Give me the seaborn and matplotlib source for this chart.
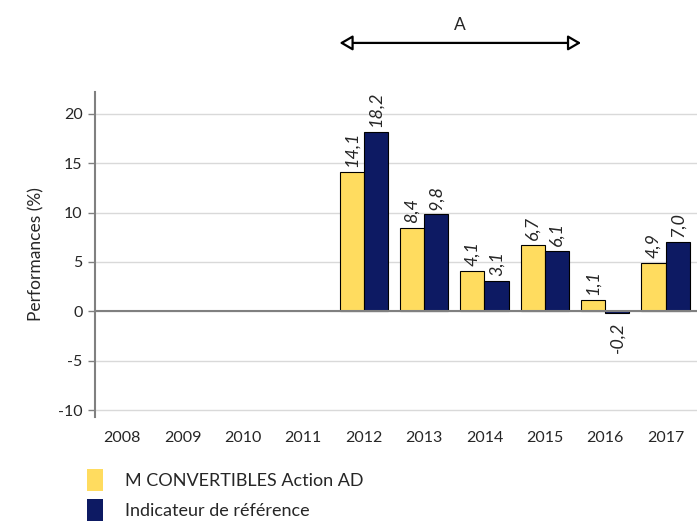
import numpy as np
import pandas as pd
import matplotlib
matplotlib.use("Agg")
import matplotlib.pyplot as plt
import seaborn as sns
from matplotlib.patches import Patch

years = ["2008", "2009", "2010", "2011", "2012", "2013", "2014", "2015", "2016", "2017"]
fund = [np.nan, np.nan, np.nan, np.nan, 14.1, 8.4, 4.1, 6.7, 1.1, 4.9]
bench = [np.nan, np.nan, np.nan, np.nan, 18.2, 9.8, 3.1, 6.1, -0.2, 7.0]
series_names = ["M CONVERTIBLES Action AD", "Indicateur de référence"]
colors = ["#FFDC5F", "#0D1A63"]
yticks = [-10, -5, 0, 5, 10, 15, 20]

sns.set_theme(style="white")
plt.rcParams["font.family"] = ["Lato", "DejaVu Sans"]

df = pd.DataFrame({
    "year": years * 2,
    "value": fund + bench,
    "series": [series_names[0]] * len(years) + [series_names[1]] * len(years),
})
df_plot = df.dropna()

fig = plt.figure(figsize=(7, 5.25), dpi=100)
ax = fig.add_axes([95 / 700, 1 - 417 / 525, 602 / 700, 325 / 525])

sns.barplot(data=df_plot, x="year", y="value", hue="series", order=years,
            hue_order=series_names, palette=colors, width=0.8, saturation=1,
            edgecolor="black", linewidth=0.8, ax=ax, legend=False, errorbar=None)

ax.set_ylim(-10.7, 22.2)
ax.set_xlim(-0.45, 9.52)
ax.set_yticks(yticks)
ax.set_yticklabels([str(t) for t in yticks], fontsize=11.5)
ax.tick_params(axis="y", which="both", left=True, length=5, color="#808080", width=1, pad=4)
ax.tick_params(axis="x", length=0, labelsize=11.5, pad=10)
ax.set_xlabel("")
ax.set_ylabel("Performances (%)", fontsize=12.5, labelpad=10)
ax.yaxis.grid(True, color="#D9D9D9", linewidth=1)
ax.set_axisbelow(True)
for s in ["top", "right", "bottom"]:
    ax.spines[s].set_visible(False)
ax.spines["left"].set_color("#808080")
ax.spines["left"].set_linewidth(1.5)
ax.axhline(0, color="#808080", linewidth=1.5, zorder=3)

for cont in ax.containers:
    for bar in cont:
        h = bar.get_height()
        if np.isnan(h):
            continue
        x = bar.get_x() + bar.get_width() / 2
        txt = f"{h:.1f}".replace(".", ",")
        if h >= 0:
            ax.text(x, h + 0.5, txt, rotation=90, ha="center", va="bottom",
                    fontsize=13, style="italic")
        else:
            ax.text(x, h - 0.8, txt, rotation=90, ha="center", va="top",
                    fontsize=13, style="italic")

trans = ax.get_xaxis_transform()
ax.annotate("", xy=(3.6, 1.151), xytext=(7.6, 1.151), xycoords=trans, textcoords=trans,
            arrowprops=dict(arrowstyle="<|-|>,head_length=0.6,head_width=0.35",
                            ec="black", fc="white", lw=1.6,
                            mutation_scale=13, shrinkA=0, shrinkB=0),
            annotation_clip=False)
ax.text(5.6, 1.205, "A", transform=trans, ha="center", va="center", fontsize=12.5)

handles = [Patch(facecolor=c, edgecolor="none") for c in colors]
fig.legend(handles, series_names, loc="upper left",
           bbox_to_anchor=(80 / 700, 1 - 462 / 525), frameon=False,
           fontsize=13, handlelength=0.9, handleheight=1.5, labelspacing=0.45,
           handletextpad=1.2, borderaxespad=0)

fig.savefig("out.png", dpi=100)
